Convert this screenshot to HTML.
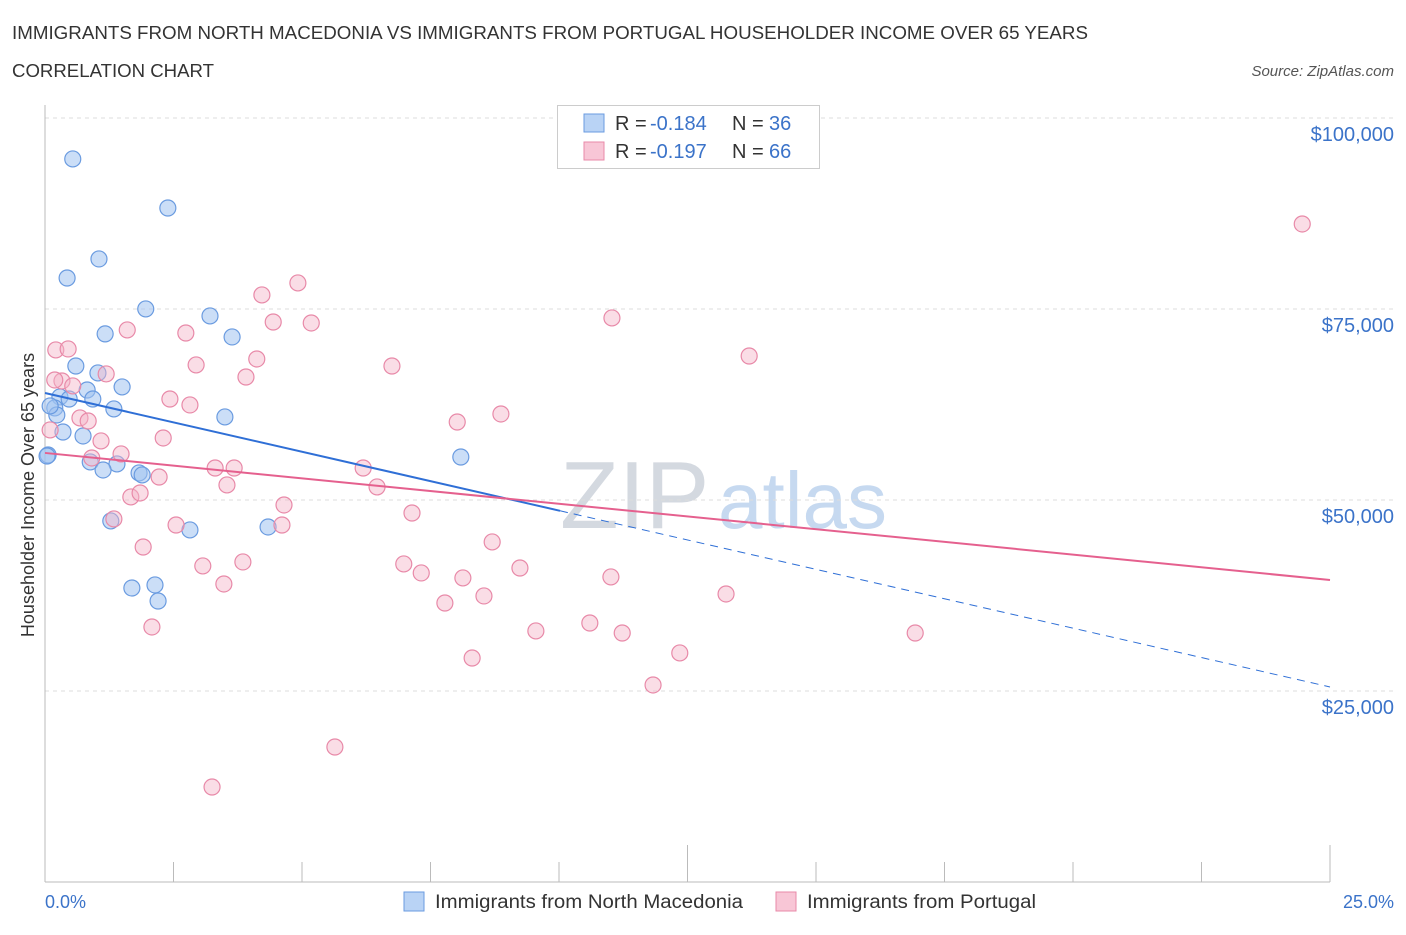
<!DOCTYPE html>
<html><head><meta charset="utf-8"><style>
body{margin:0;background:#fff;font-family:"Liberation Sans",sans-serif;}
svg text{font-family:"Liberation Sans",sans-serif;}
</style></head><body>
<svg id="chart" width="1406" height="930" viewBox="0 0 1406 930">
<text x="12" y="39" font-size="18" fill="#333" textLength="1076" lengthAdjust="spacingAndGlyphs">IMMIGRANTS FROM NORTH MACEDONIA VS IMMIGRANTS FROM PORTUGAL HOUSEHOLDER INCOME OVER 65 YEARS</text>
<text x="12" y="77" font-size="18" fill="#333" textLength="202" lengthAdjust="spacingAndGlyphs">CORRELATION CHART</text>
<text x="1394" y="76" font-size="15" fill="#555" font-style="italic" text-anchor="end">Source: ZipAtlas.com</text>
<text x="560" y="528" font-size="96" fill="#d4d9e0" font-family="Liberation Serif">ZIP</text>
<text x="718" y="528" font-size="80" fill="#c6d9f0">atlas</text>
<g id="grid"></g>
<g id="axes"></g>
<g id="pts"></g>
<g id="trends"></g>
<text transform="translate(34,495) rotate(-90)" font-size="18" fill="#333" text-anchor="middle">Householder Income Over 65 years</text>
<text x="45" y="908" font-size="18" fill="#3b73c9">0.0%</text>
<text x="1394" y="908" font-size="18" fill="#3b73c9" text-anchor="end">25.0%</text>
<g>
<rect x="557.5" y="105.5" width="262" height="63" fill="#fff" stroke="#ccc"/>
<rect x="584" y="114" width="20" height="18" fill="#b9d3f5" stroke="#6a9be0"/>
<rect x="584" y="142" width="20" height="18" fill="#f8c6d6" stroke="#e889a8"/>
<text x="615" y="130" font-size="20" fill="#333">R = </text><text x="650" y="130" font-size="20" fill="#3b73c9">-0.184</text>
<text x="732" y="130" font-size="20" fill="#333">N = </text><text x="769" y="130" font-size="20" fill="#3b73c9">36</text>
<text x="615" y="158" font-size="20" fill="#333">R = </text><text x="650" y="158" font-size="20" fill="#3b73c9">-0.197</text>
<text x="732" y="158" font-size="20" fill="#333">N = </text><text x="769" y="158" font-size="20" fill="#3b73c9">66</text>
</g>
<g>
<rect x="404" y="892" width="20" height="19" fill="#b9d3f5" stroke="#6a9be0"/>
<text x="435" y="908" font-size="19" fill="#333" textLength="308" lengthAdjust="spacingAndGlyphs">Immigrants from North Macedonia</text>
<rect x="776" y="892" width="20" height="19" fill="#f8c6d6" stroke="#e889a8"/>
<text x="807" y="908" font-size="19" fill="#333" textLength="229" lengthAdjust="spacingAndGlyphs">Immigrants from Portugal</text>
</g>
</svg>
<script>
const yTicks=[25000,50000,75000,100000];
const yTickLabels=["$25,000","$50,000","$75,000","$100,000"];
const blueX=[0.54,2.39,0.43,1.05,1.96,1.17,3.21,3.64,0.60,1.03,1.50,0.82,0.29,0.47,0.93,1.34,0.19,0.23,3.50,0.35,0.74,0.06,8.09,0.88,1.40,1.13,1.83,1.89,1.28,2.82,4.34,1.69,2.14,2.20,0.10,0.04];
const blueY=[94640,88220,79060,81550,75010,71740,74090,71340,67540,66630,64800,64400,63490,63220,63220,61920,62050,61130,60870,58900,58380,55890,55630,54980,54720,53930,53540,53280,47260,46080,46470,38480,38880,36780,62310,55760];
const pinkX=[4.92,4.22,4.44,5.18,1.60,2.74,0.21,0.45,4.12,2.94,6.75,1.19,3.91,0.33,0.54,2.43,2.82,11.03,13.70,8.87,8.02,0.68,0.84,2.30,1.09,1.48,0.91,3.31,3.68,6.19,2.22,6.46,3.54,1.67,1.85,4.65,7.14,1.34,2.55,4.61,8.70,1.91,6.98,3.07,3.85,7.32,8.13,9.24,11.01,3.48,8.54,7.78,13.25,2.08,10.60,9.55,11.23,16.93,12.35,8.31,11.83,5.64,3.25,24.46,0.19,0.10];
const pinkY=[78410,76840,73300,73170,72260,71860,69640,69770,68460,67680,67540,66500,66100,65580,64930,63220,62440,73830,68850,61260,60210,60740,60340,58120,57730,56030,55500,54190,54190,54190,53010,51710,51970,50400,50920,49350,48300,47520,46730,46730,44510,43850,41630,41370,41890,40450,39800,41100,39930,39010,37440,36520,37700,33380,33900,32860,32590,32590,29980,29320,25790,17670,12430,86130,65710,59170];
const blueTrend=[64010,25530];
const pinkTrend=[56160,39530];
const blueSolidEnd=10.02;
const X0=45,X1=1330,Y0=882,YT=118;
const sx=v=>X0+(v/25)*(X1-X0);
const sy=v=>Y0-(v/100000)*(Y0-YT);
const NS="http://www.w3.org/2000/svg";
function mk(tag,attrs,parent){const e=document.createElementNS(NS,tag);for(const k in attrs)e.setAttribute(k,attrs[k]);document.getElementById(parent).appendChild(e);return e;}
yTicks.forEach((t,i)=>{
 const l=mk('line',{x1:X0,x2:1394,y1:sy(t),y2:sy(t),stroke:'#ddd','stroke-dasharray':'4,4'},'grid');
 
 
 const tx=mk('text',{x:1394,y:sy(t)+23,'font-size':20,fill:'#3b73c9','text-anchor':'end'},'grid');
 tx.textContent=yTickLabels[i];
 
 
});
const tg=mk('line',{x1:X0,x2:1394,y1:YT,y2:YT,stroke:'#ddd','stroke-dasharray':'4,4'},'grid');


const ya=mk('line',{x1:X0,x2:X0,y1:105,y2:Y0,stroke:'#bbb'},'axes');


const xa=mk('line',{x1:X0,x2:X1,y1:Y0,y2:Y0,stroke:'#bbb'},'axes');


for(let i=0;i<=10;i++){
 const v=i*2.5;
 const tk=mk('line',{x1:sx(v),x2:sx(v),y1:(i==5||i==10)?845:862,y2:Y0,stroke:'#bbb'},'axes');
 
 
}
blueX.forEach((x,i)=>{
 const c=mk('circle',{cx:sx(x),cy:sy(blueY[i]),r:8,fill:'rgba(160,195,240,0.55)',stroke:'#6a9be0','stroke-width':1.2},'pts');
 
 
});
pinkX.forEach((x,i)=>{
 const c=mk('circle',{cx:sx(x),cy:sy(pinkY[i]),r:8,fill:'rgba(245,180,200,0.45)',stroke:'#e889a8','stroke-width':1.2},'pts');
 
 
});
const bAt=x=>blueTrend[0]+(blueTrend[1]-blueTrend[0])*x/25;
const b1=mk('line',{x1:sx(0),y1:sy(bAt(0)),x2:sx(blueSolidEnd),y2:sy(bAt(blueSolidEnd)),stroke:'#2f6fd6','stroke-width':2},'trends');


const b2=mk('line',{x1:sx(blueSolidEnd),y1:sy(bAt(blueSolidEnd)),x2:sx(25),y2:sy(bAt(25)),stroke:'#2f6fd6','stroke-width':1,'stroke-dasharray':'8,6'},'trends');


const p1=mk('line',{x1:sx(0),y1:sy(pinkTrend[0]),x2:sx(25),y2:sy(pinkTrend[1]),stroke:'#e5608e','stroke-width':2},'trends');


</script>
</body></html>
